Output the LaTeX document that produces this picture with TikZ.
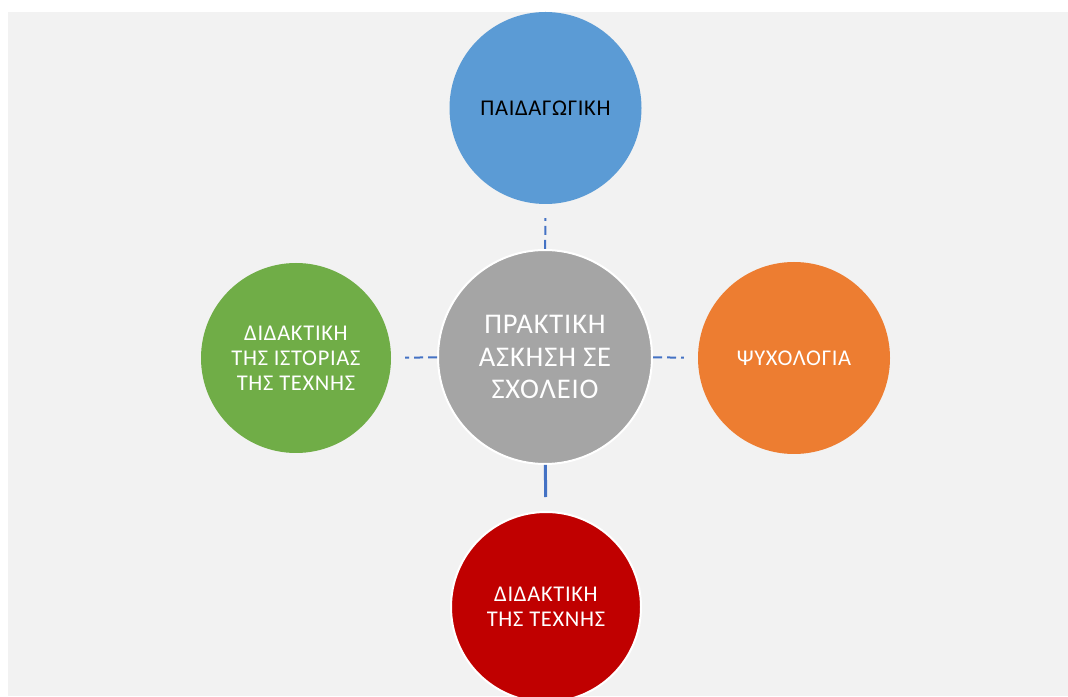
\documentclass[tikz,border=0pt]{standalone}
\usepackage{fontspec}
\setmainfont{Carlito}[LetterSpace=3]
\usepackage{xcolor}
\usepackage{tikz}
\usetikzlibrary{shapes,arrows,calc}
\usetikzlibrary{positioning}

\definecolor{paneback}{HTML}{F2F2F2}
\definecolor{pedblue}{HTML}{5B9BD5}
\definecolor{psygreen}{HTML}{70AD47}
\definecolor{psyorange}{HTML}{ED7D31}
\definecolor{artred}{HTML}{C00000}
\definecolor{hubgray}{HTML}{A5A5A5}
\definecolor{linkblue}{HTML}{4472C4}

\begin{document}
\begin{tikzpicture}[x=1pt, y=1pt,
  bubble/.style={circle, inner sep=0pt, minimum size=192pt, align=center,
    text=white, font=\fontsize{22.5}{25}\selectfont},
  hub/.style={circle, inner sep=0pt, minimum size=214pt, align=center,
    fill=hubgray, draw=white, line width=2pt, text=white,
    font=\fontsize{28.5}{32.5}\selectfont},
  link/.style={linkblue, line width=2pt, dash pattern=on 9pt off 5pt, shorten >=14pt}]
\clip (0,0) rectangle (1068,696);
\fill[white] (0,0) rectangle (1068,696);
\fill[paneback] (8,0) rectangle (1068,684);

\node[hub] (school) at (545,339) {ΠΡΑΚΤΙΚΗ\\ΑΣΚΗΣΗ ΣΕ\\ΣΧΟΛΕΙΟ};
\node[bubble, fill=pedblue, text=black] (pedagogy) at (545.5,588) {ΠΑΙΔΑΓΩΓΙΚΗ};
\node[bubble, fill=psygreen, minimum size=190pt] (history) at (296,338) {ΔΙΔΑΚΤΙΚΗ\\ΤΗΣ ΙΣΤΟΡΙΑΣ\\ΤΗΣ ΤΕΧΝΗΣ};
\node[bubble, fill=psyorange] (psychology) at (794,338) {ΨΥΧΟΛΟΓΙΑ};
\node[bubble, fill=artred, draw=white, line width=2pt, minimum size=190pt] (didactics) at (546,89) {ΔΙΔΑΚΤΙΚΗ\\ΤΗΣ ΤΕΧΝΗΣ};

\draw[link] (school) -- (pedagogy);
\draw[link] (school) -- (history);
\draw[link] (school) -- (psychology);
\draw[linkblue, line width=3pt, shorten >=14pt] (school) -- (didactics);
\end{tikzpicture}
\end{document}
